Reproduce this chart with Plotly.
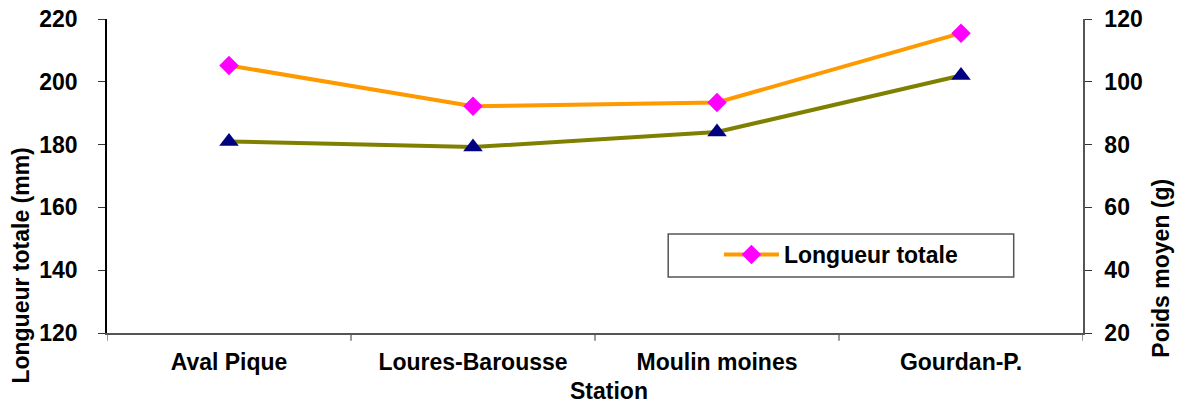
import plotly.graph_objects as go

stations = ["Aval Pique", "Loures-Barousse", "Moulin moines", "Gourdan-P."]
longueur = [205.2, 192.2, 193.4, 215.5]   # mm, left axis
poids = [81.0, 79.2, 84.0, 102.0]         # g, right axis

bold = dict(family="Liberation Sans, Arial", size=23, color="black", weight="bold")

fig = go.Figure()
fig.add_trace(go.Scatter(
    x=stations, y=poids, name="Poids moyen", yaxis="y2", mode="lines+markers",
    line=dict(color="#808000", width=4),
    marker=dict(symbol="triangle-up", size=17, color="#000080"),
    showlegend=False,
))
fig.add_trace(go.Scatter(
    x=stations, y=longueur, name="Longueur totale", mode="lines+markers",
    line=dict(color="#FF9900", width=4),
    marker=dict(symbol="diamond", size=15, color="#FF00FF"),
))

fig.update_layout(
    width=1178, height=403,
    margin=dict(l=107, r=95, t=19, b=70),
    plot_bgcolor="white", paper_bgcolor="white",
    font=bold,
    xaxis=dict(
        type="category", range=[-0.5, 3.5], showgrid=False, automargin=False,
        showline=True, linecolor="#555", linewidth=1.5,
        ticks="", tickfont=bold, ticklabelstandoff=8,
    ),
    yaxis=dict(
        range=[120, 220], dtick=20, showgrid=False, zeroline=False, automargin=False,
        showline=True, linecolor="black", linewidth=1.5,
        ticks="outside", ticklen=7, tickcolor="#333",
        tickfont=bold, ticklabelstandoff=16,
    ),
    yaxis2=dict(
        range=[20, 120], dtick=20, overlaying="y", side="right", automargin=False,
        showgrid=False, zeroline=False,
        showline=True, linecolor="#555", linewidth=1.5,
        ticks="outside", ticklen=7, tickcolor="#333",
        tickfont=bold, ticklabelstandoff=8,
    ),
    showlegend=True,
    legend=dict(
        x=0.627, y=0.25, xanchor="left", yanchor="middle", itemwidth=55,
        bgcolor="rgba(0,0,0,0)", borderwidth=0, font=bold,
    ),
    shapes=[dict(
        type="rect", xref="paper", yref="paper",
        x0=0.575, x1=0.929, y0=0.178, y1=0.315,
        line=dict(color="#555", width=1.5), fillcolor="white", layer="below",
    )],
    annotations=[
        dict(text="Longueur totale (mm)", textangle=-90, xref="paper", yref="paper",
             x=-0.088, y=0.215, xanchor="center", yanchor="middle", showarrow=False),
        dict(text="Poids moyen (g)", textangle=-90, xref="paper", yref="paper",
             x=1.08, y=0.205, xanchor="center", yanchor="middle", showarrow=False),
        dict(text="Station", xref="paper", yref="paper",
             x=0.514, y=-0.185, xanchor="center", yanchor="middle", showarrow=False),
    ],
)

# vertical tick separators between categories on the x axis
for k in range(len(stations) + 1):
    fig.add_shape(type="line", xref="x", yref="paper", x0=k - 0.5, x1=k - 0.5,
                  y0=0, y1=-0.025, line=dict(color="#555", width=1.2))

fig.write_html("out.html", config={"displayModeBar": False},
               post_script="document.body.style.margin='0';")
